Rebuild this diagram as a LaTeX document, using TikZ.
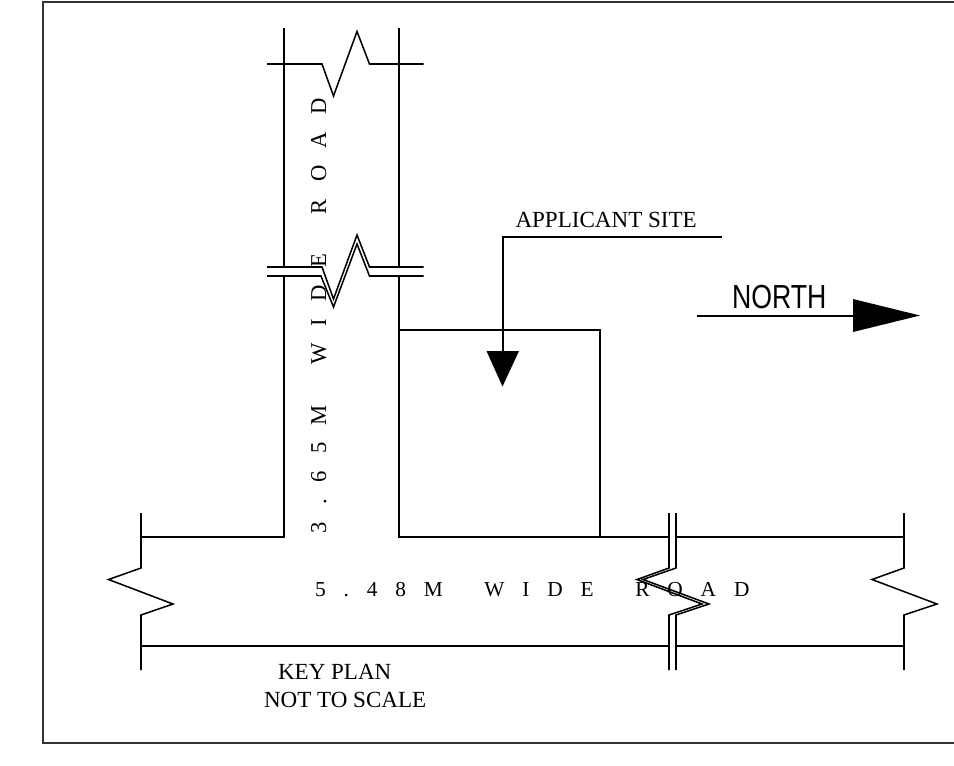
\documentclass[tikz,border=0pt]{standalone}
\usepackage{fontspec}
\setmainfont{Liberation Serif}
\newfontfamily\northfont{Liberation Sans}
\newlength{\pxu}\setlength{\pxu}{0.75pt}
\newcommand{\lsp}{\hspace{17.9\pxu}}
\newcommand{\wsp}{\hspace{41.5\pxu}}
\newcommand{\vlsp}{\hspace{17.2\pxu}}
\newcommand{\vwsp}{\hspace{40\pxu}}
\tikzset{
  plan/.style={draw=black,line width=1.15pt,line cap=butt,line join=miter},
  frame/.style={draw=black!80,line width=1.2pt},
  head/.style={fill=black,draw=none},
  lbl/.style={inner sep=0pt,outer sep=0pt,anchor=base west,font=\fontsize{17.3pt}{18pt}\selectfont},
  roadh/.style={lbl,font=\fontsize{16pt}{18pt}\selectfont},
  roadv/.style={lbl,rotate=90,font=\fontsize{17pt}{18pt}\selectfont},
}
\begin{document}
\begin{tikzpicture}[x=0.75pt,y=-0.75pt]
\useasboundingbox (0,0) rectangle (954,765);
% frame
\draw[frame] (954,2) -- (43,2) -- (43,743) -- (954,743);
% vertical road
\draw[plan] (284,28) -- (284,267) (284,276) -- (284,537) -- (141,537);
\draw[plan] (399,28) -- (399,267) (399,276) -- (399,537) -- (669,537);
\draw[plan] (267,64) -- (322,64) -- (333.5,96) -- (357,31.5) -- (369.5,64) -- (423.5,64);
\draw[plan] (267,267) -- (322,267) -- (333.5,299) -- (357,235) -- (369.5,267) -- (423.5,267);
\draw[plan] (267,276) -- (321,276) -- (333.5,307) -- (357,244) -- (369.5,276) -- (423.5,276);
% horizontal road
\draw[plan] (676,537) -- (904,537);
\draw[plan] (141,646) -- (669,646) (676,646) -- (904,646);
\draw[plan] (141,513) -- (141,568) -- (108.5,579.5) -- (173,604) -- (141,615) -- (141,670);
\draw[plan] (904,513) -- (904,568) -- (872,579.5) -- (937,604) -- (904,615) -- (904,670);
\draw[plan] (669,513) -- (669,568) -- (637,579.5) -- (702,604) -- (669,615) -- (669,670);
\draw[plan] (676,513) -- (676,568) -- (643,579.5) -- (709,604) -- (676,615) -- (676,670);
% site
\draw[plan] (399,330) -- (600,330) -- (600,537);
% leader
\draw[plan] (722,237) -- (503,237) -- (503,351);
\fill[head] (486.5,351) -- (519,351) -- (502.5,386.5) -- cycle;
% north
\draw[plan] (697,316) -- (853,316);
\fill[head] (853,299) -- (853,332) -- (920,315.5) -- cycle;
% text
\node[lbl] (site) at (515.5,227) {APPLICANT SITE};
\node[lbl,xscale=0.8,font=\northfont\fontsize{25pt}{28pt}\selectfont] (north) at (732,308) {NORTH};
\node[lbl] (key) at (278,679) {KEY PLAN};
\node[lbl] (scale) at (264,707) {NOT TO SCALE};
\node[roadh] (hroad) at (315,596) {5\lsp.\lsp4\lsp8\lsp M\wsp W\lsp I\lsp D\lsp E\wsp R\lsp O\lsp A\lsp D};
\node[roadv] (vroad) at (326,533.5) {3\vlsp.\vlsp6\vlsp5\vlsp M\vwsp W\vlsp I\vlsp D\vlsp E\vwsp R\vlsp O\vlsp A\vlsp D};
\end{tikzpicture}
\end{document}
